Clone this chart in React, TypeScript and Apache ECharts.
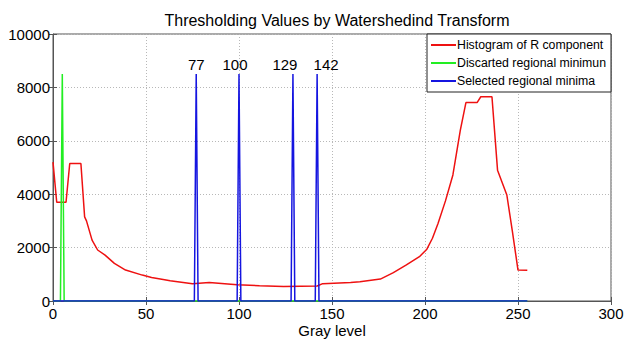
import React, { useEffect, useRef } from "react";
import * as echarts from "echarts";

const title = "Thresholding Values by Watershedind Transform";
const xName = "Gray level";
const seriesNames = ["Histogram of R component", "Discarted regional minimun", "Selected regional minima"];

// Histogram of R component (key points)
const grayLevels = [0, 2, 7, 9, 15, 17, 18, 21, 24, 28, 33, 39, 48, 53, 60, 63, 75, 84, 99, 111, 124, 142, 145, 160, 165, 176, 183, 190, 197, 201, 204, 207, 211, 215, 219, 222, 228, 230, 236, 239, 244, 247, 250, 255];
const counts = [5200, 3700, 3700, 5150, 5150, 3150, 3000, 2280, 1910, 1720, 1410, 1160, 970, 880, 800, 760, 650, 690, 610, 570, 545, 560, 650, 690, 720, 820, 1060, 1350, 1660, 1940, 2350, 2900, 3750, 4720, 6400, 7430, 7430, 7650, 7650, 4900, 3970, 2600, 1160, 1150];

const discardedMinima = [5];
const selectedMinima = [77, 100, 129, 142];
const spikeHeight = 8500;
const lastLevel = 255;

const xTicks = { min: 0, max: 300, interval: 50 };
const yTicks = { min: 0, max: 10000, interval: 2000 };

const labelOffsets = [0, -4, -8, 9];

function spikes(levels: number[], withLabels: boolean) {
  const out: any[] = [[0, 0]];
  levels.forEach((m, i) => {
    out.push([m - 1, 0]);
    out.push(
      withLabels
        ? {
            value: [m, spikeHeight],
            label: {
              show: true,
              position: "top",
              distance: 2,
              offset: [labelOffsets[i], 0],
              formatter: String(m),
              color: "#000",
              fontSize: 15,
              fontFamily: "Liberation Sans",
            },
          }
        : [m, spikeHeight]
    );
    out.push([m + 1, 0]);
  });
  out.push([lastLevel, 0]);
  return out;
}

export default function App() {
  const ref = useRef<HTMLDivElement>(null);
  useEffect(() => {
    if (!ref.current) return;
    const chart = echarts.init(ref.current, null, { renderer: "svg" });
    const font = "Liberation Sans";
    const gridLine = { show: true, lineStyle: { color: "#b8b8b8", type: [1, 2], width: 1 } };
    chart.setOption({
      animation: false,
      backgroundColor: "#fff",
      textStyle: { fontFamily: font },
      title: {
        text: title,
        left: 332,
        textAlign: "center",
        top: 7,
        textStyle: { fontSize: 16, fontWeight: "normal", color: "#000", fontFamily: font },
      },
      legend: {
        orient: "vertical",
        right: 15,
        top: 34,
        backgroundColor: "#fff",
        borderColor: "#222",
        borderWidth: 1,
        borderRadius: 0,
        padding: [4, 5, 4, 4],
        itemGap: 4,
        itemWidth: 25,
        itemHeight: 2,
        icon: "rect",
        textStyle: { fontSize: 12.3, color: "#000", fontFamily: font, padding: [0, 0, 0, -4], lineHeight: 14 },
        data: seriesNames,
      },
      grid: {
        left: 53,
        right: 15,
        top: 34,
        bottom: 38,
        show: true,
        borderColor: "#555",
        borderWidth: 1,
        outerBoundsMode: "none",
        containLabel: false,
      },
      xAxis: [
        {
          type: "value",
          ...xTicks,
          name: xName,
          nameLocation: "middle",
          nameGap: 21,
          nameMoveOverlap: false,
          nameTextStyle: { fontSize: 15, lineHeight: 16, color: "#000", fontFamily: font, verticalAlign: "top" },
          axisLine: { show: true, lineStyle: { color: "#555" } },
          axisTick: { show: true, inside: true, length: 4, lineStyle: { color: "#555" } },
          axisLabel: { fontSize: 15, color: "#000", margin: 5, fontFamily: font },
          splitLine: gridLine,
        },
        {
          type: "value",
          ...xTicks,
          position: "top",
          axisLine: { show: false },
          axisTick: { show: true, inside: true, length: 4, lineStyle: { color: "#555" } },
          axisLabel: { show: false },
          splitLine: { show: false },
        },
      ],
      yAxis: [
        {
          type: "value",
          ...yTicks,
          axisLine: { show: true, lineStyle: { color: "#555" } },
          axisTick: { show: true, inside: true, length: 4, lineStyle: { color: "#555" } },
          axisLabel: { fontSize: 15, color: "#000", margin: 3, fontFamily: font, formatter: (v: number) => String(v) },
          splitLine: gridLine,
        },
        {
          type: "value",
          ...yTicks,
          position: "right",
          axisLine: { show: false },
          axisTick: { show: true, inside: true, length: 4, lineStyle: { color: "#555" } },
          axisLabel: { show: false },
          splitLine: { show: false },
        },
      ],
      series: [
        {
          name: seriesNames[0],
          type: "line",
          showSymbol: false,
          data: grayLevels.map((g, i) => [g, counts[i]]),
          lineStyle: { color: "#ee1111", width: 1.5 },
          itemStyle: { color: "#ee1111" },
        },
        {
          name: seriesNames[1],
          type: "line",
          showSymbol: false,
          data: spikes(discardedMinima, false),
          lineStyle: { color: "#22ee22", width: 1.5 },
          itemStyle: { color: "#22ee22" },
        },
        {
          name: seriesNames[2],
          type: "line",
          showSymbol: true,
          symbol: "circle",
          symbolSize: 0.1,
          data: spikes(selectedMinima, true),
          lineStyle: { color: "#1515e0", width: 1.5 },
          itemStyle: { color: "#1515e0" },
        },
      ],
    });
    return () => chart.dispose();
  }, []);
  return <div ref={ref} style={{ width: 626, height: 339, position: "absolute", left: 0, top: 0 }} />;
}
